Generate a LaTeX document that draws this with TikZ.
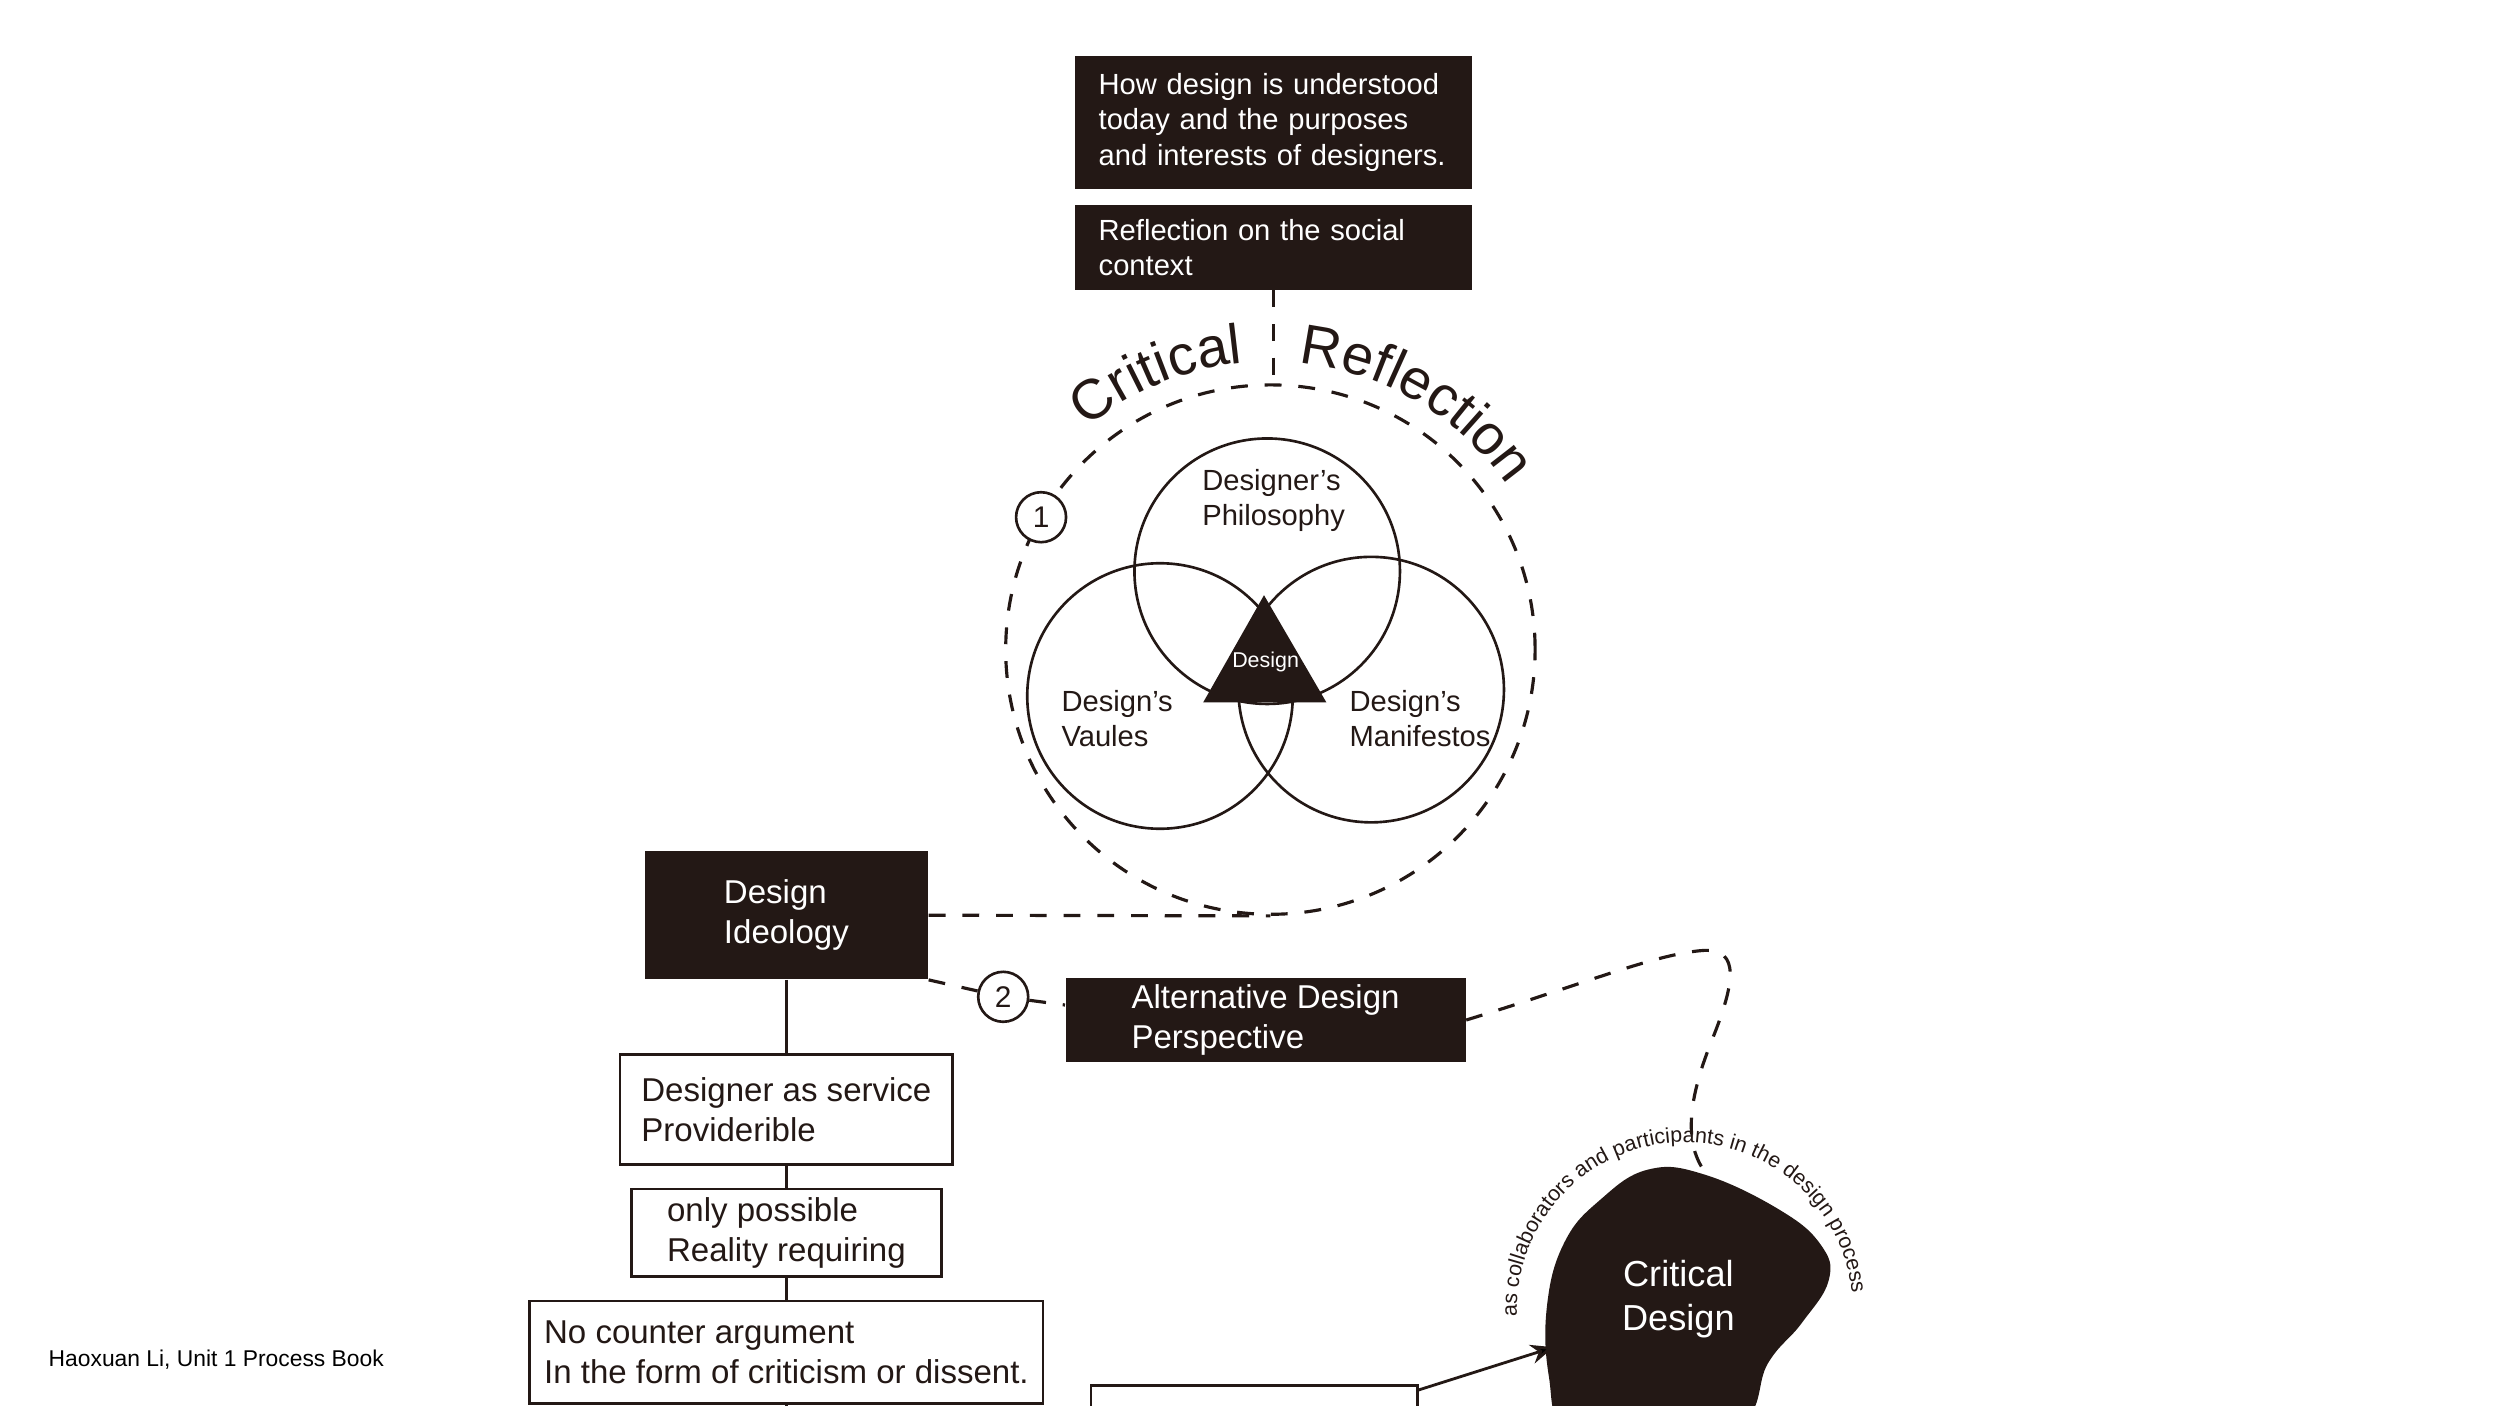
\documentclass[tikz,border=0pt]{standalone}
\usepackage{fontspec}
\setmainfont{Liberation Sans}
\usetikzlibrary{arrows.meta,decorations.text}
\definecolor{ink}{RGB}{35,24,21}

\begin{document}
\begin{tikzpicture}[x=0.016cm, y=0.016cm,
  darkbox/.style={fill=ink, text=white, align=left, inner sep=0pt},
  whitebox/.style={draw=ink, line width=0.75pt, fill=white, text=ink, align=left, inner sep=0pt},
  venn/.style={draw=ink, line width=0.75pt, circle, inner sep=0pt, minimum size=2.656cm},
  dashline/.style={draw=ink, line width=0.9pt, dash pattern=on 4.8pt off 4.8pt},
  link/.style={draw=ink, line width=0.8pt},
  numcirc/.style={draw=ink, line width=0.75pt, circle, fill=white, text=ink, inner sep=0pt,
    minimum size=0.5cm, font=\fontsize{8.5}{10}\selectfont},
  smalltext/.style={font=\fontsize{8.3}{10}\selectfont},
  boxtext/.style={font=\fontsize{9.4}{11.4}\selectfont}]

\useasboundingbox (0,0) rectangle (1562.5,-878.75);
\clip (0,0) rectangle (1562.5,-878.75);

%top boxes
\node[darkbox, smalltext, text width=3.5cm, minimum width=3.968cm, minimum height=1.328cm]
  (purpose) at (796,-76.5) {How design is understood\\today and the purposes\\and interests of designers.};
\node[darkbox, smalltext, text width=3.5cm, minimum width=3.968cm, minimum height=0.848cm]
  (social) at (796,-154.5) {Reflection on the social\\context};

%critical reflection ring
\node[circle, dashline, inner sep=0pt, minimum size=5.296cm] (ring) at (794,-406) {};
\draw[dashline] (social.south) -- (social.south |- ring.north);
\path[decorate, decoration={text along path, text align=center, text color=ink,
  text={|\fontsize{16}{19}\selectfont|Critical}}]
  ([shift={(145:180)}]ring.center) arc (145:80:180);
\path[decorate, decoration={text along path, text align=center, text color=ink,
  text={|\fontsize{16}{19}\selectfont|Reflection}}]
  ([shift={(95:180)}]ring.center) arc (95:24:180);
\node[numcirc] (one) at ([shift={(150:165.5)}]ring.center) {1};

%venn
\node[venn] (philo) at (792,-357) {};
\node[venn] (values) at (725,-435) {};
\node[venn] (manif) at (857,-431) {};
\fill[ink] (790,-372) -- (752,-439) -- (829,-439) -- cycle;
\node[text=white, inner sep=0pt, font=\fontsize{6.1}{7}\selectfont] (core) at (791,-414) {Design};
\node[smalltext, text=ink, anchor=west, align=left, inner sep=0pt] (philolbl) at (751,-313) {Designer’s\\Philosophy};
\node[smalltext, text=ink, anchor=west, align=left, inner sep=0pt] (valueslbl) at (663,-449) {Design’s\\Vaules};
\node[smalltext, text=ink, anchor=west, align=left, inner sep=0pt] (maniflbl) at (843,-449) {Design’s\\Manifestos};

%ideology chain
\node[darkbox, boxtext, minimum width=2.832cm, minimum height=1.28cm] (ideology) at (491.5,-572) {Design\\Ideology};
\node[whitebox, boxtext, minimum width=3.328cm, minimum height=1.104cm] (service) at (491.5,-693.5) {Designer as service\\Providerible};
\node[whitebox, boxtext, minimum width=3.104cm, minimum height=0.88cm] (reality) at (491.5,-770.5) {only possible\\Reality requiring};
\node[whitebox, boxtext, minimum width=5.136cm, minimum height=1.024cm] (counter) at (491.5,-845) {No counter argument\\In the form of criticism or dissent.};
\node[whitebox, minimum width=3.264cm, minimum height=1.6cm, anchor=north west] (challenge) at (681,-865) {};
\draw[link] (ideology.south) -- (service.north);
\draw[link] (service.south) -- (reality.north);
\draw[link] (reality.south) -- (counter.north);
\draw[link] (counter.south) -- ++(0,-20);

\draw[dashline] (ideology.east) -- (ring.south);

%alternative
\node[darkbox, boxtext, minimum width=4cm, minimum height=0.848cm] (alt) at (791,-637.5) {Alternative Design\\Perspective};
\node[numcirc] (two) at (627,-623) {2};
\draw[dashline] (ideology.south east) -- (two);
\draw[dashline] (two) -- ([yshift=0.15cm]alt.west);

%critical design blob
\coordinate (blobc) at (1053,-819);
\coordinate (blobtop) at (1066,-733);
\coordinate (blobwest) at (971,-842);
\fill[ink] plot[smooth cycle, tension=0.7] coordinates {(967,-815) (978,-776) (1000,-750) (1030,-731)
  (1065,-734) (1112,-756) (1138,-778) (1143,-800) (1126,-827) (1105,-852) (1088,-890)
  (1030,-905) (980,-895) (968,-860)};
\node[text=white, align=center, font=\fontsize{10.3}{12.7}\selectfont] (critdesign) at (1049,-812) {Critical\\Design};
\path[decorate, decoration={text along path, text align=center, text color=ink,
  text={|\fontsize{6.1}{7}\selectfont|as collaborators and participants in the design process}}]
  ([shift={(190:105)}]blobc) arc (190:-2:105);
\draw[dashline] (alt.east) .. controls (990,-615) and (1035,-596) .. (1065,-594)
  .. controls (1088,-593) and (1084,-615) .. (1070,-650)
  .. controls (1058,-680) and (1050,-712) .. (blobtop);
\draw[link, -{Stealth[length=6.5pt, width=5.5pt]}] ([yshift=-0.06cm]challenge.north east) -- (blobwest);

%footer
\node[anchor=west, inner sep=0pt, font=\fontsize{6.5}{8}\selectfont] (credit) at (30,-850) {Haoxuan Li, Unit 1 Process Book};
\end{tikzpicture}
\end{document}
